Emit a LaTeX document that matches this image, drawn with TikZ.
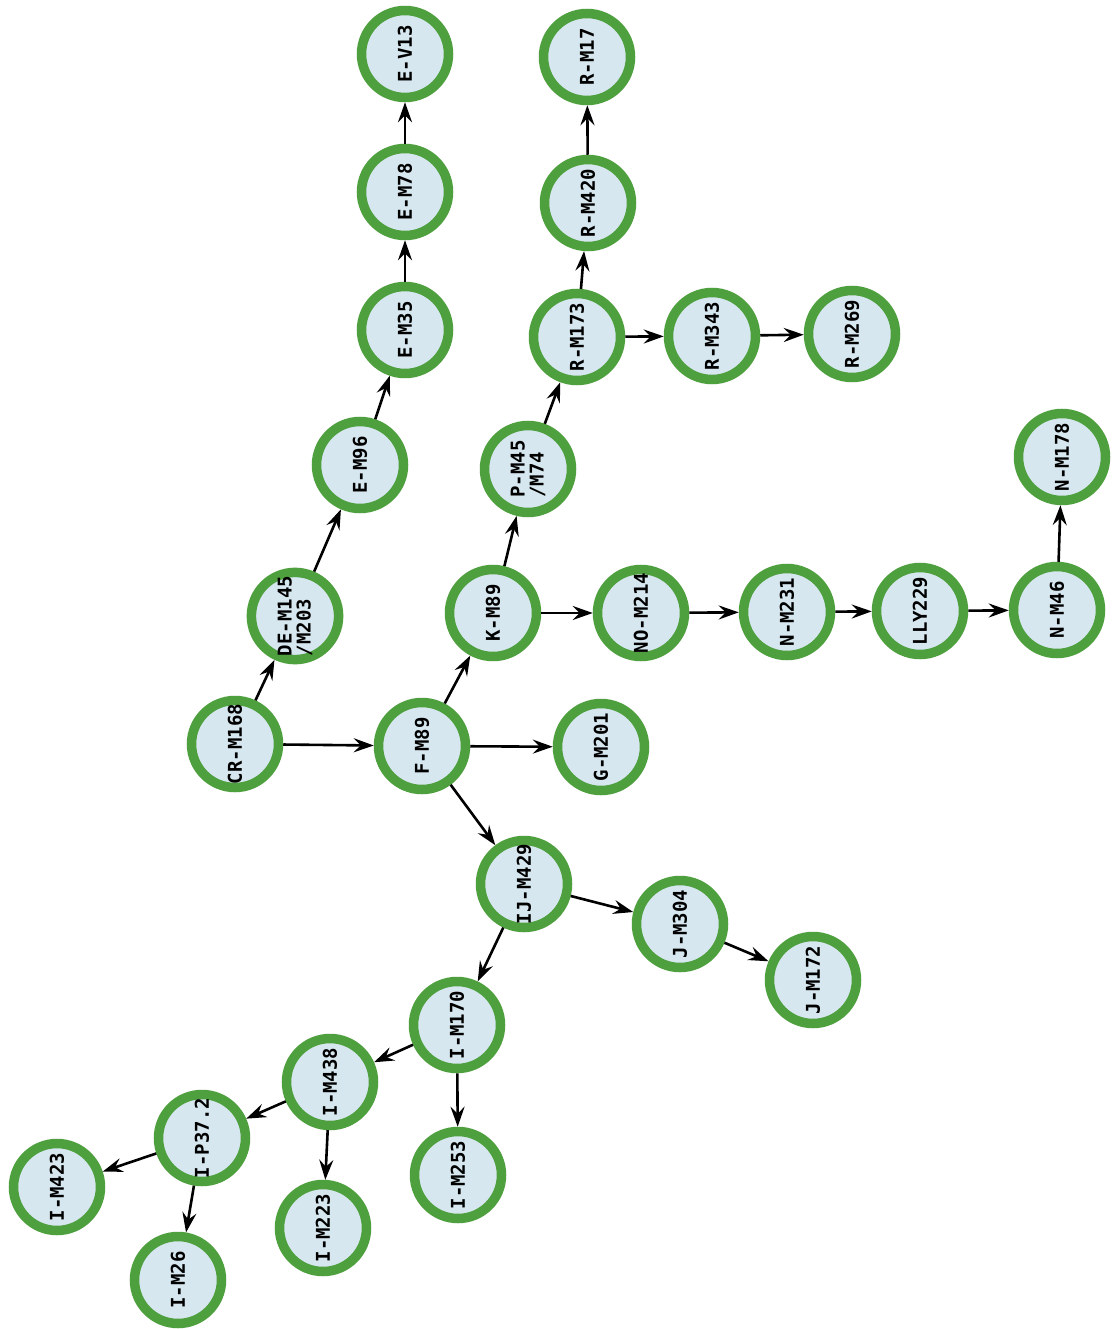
\documentclass[tikz,border=0pt]{standalone}
\usepackage{fontspec}
\newfontfamily\monob{DejaVu Sans Mono}[BoldFont={DejaVu Sans Mono Bold}]
\usetikzlibrary{arrows.meta}
\definecolor{ringgreen}{HTML}{4E9F3D}
\definecolor{nodefill}{HTML}{D6E7EF}
\tikzset{
  hap/.style={circle, draw=ringgreen, line width=9.5pt, fill=nodefill,
    minimum size=87pt, inner sep=0pt, rotate=90, align=left,
    font=\fontsize{19}{19}\selectfont\monob\bfseries},
  link/.style={line width=2.6pt, -{Stealth[length=20pt,width=14pt,inset=7pt]}}
}
\begin{document}
\begin{tikzpicture}[x=1pt,y=-1pt]
\useasboundingbox (0,0) rectangle (1111,1329);
\fill[white] (0,0) rectangle (1111,1329);
\node[hap] (cr) at (235,744) {CR-M168};
\node[hap] (f) at (422,746) {F-M89};
\node[hap] (g) at (601,747) {G-M201};
\node[hap] (de) at (295,616) {DE-M145\\/M203};
\node[hap] (e96) at (360,465) {E-M96};
\node[hap] (e35) at (405,330) {E-M35};
\node[hap] (e78) at (405,192) {E-M78};
\node[hap] (ev13) at (405,54) {E-V13};
\node[hap] (k) at (493,613) {K-M89};
\node[hap] (p) at (528,469) {P-M45\\/M74};
\node[hap] (r173) at (577,337) {R-M173};
\node[hap] (r420) at (588,203) {R-M420};
\node[hap] (r17) at (587,57) {R-M17};
\node[hap] (r343) at (712,336) {R-M343};
\node[hap] (r269) at (852,334) {R-M269};
\node[hap] (no) at (641,613) {NO-M214};
\node[hap] (n231) at (787,612) {N-M231};
\node[hap] (lly) at (920,611) {LLY229};
\node[hap] (n46) at (1057,610) {N-M46};
\node[hap] (n178) at (1062,457) {N-M178};
\node[hap] (ij) at (524,884) {IJ-M429};
\node[hap] (j304) at (680,924) {J-M304};
\node[hap] (j172) at (813,980) {J-M172};
\node[hap] (i170) at (457,1025) {I-M170};
\node[hap] (i438) at (330,1082) {I-M438};
\node[hap] (i253) at (458,1175) {I-M253};
\node[hap] (ip37) at (202,1138) {I-P37.2};
\node[hap] (i223) at (323,1228) {I-M223};
\node[hap] (i423) at (57,1187) {I-M423};
\node[hap] (i26) at (178,1280) {I-M26};
\draw[link] (cr) -- (de);
\draw[link] (cr) -- (f);
\draw[link] (de) -- (e96);
\draw[link] (e96) -- (e35);
\draw[link] (e35) -- (e78);
\draw[link] (e78) -- (ev13);
\draw[link] (f) -- (k);
\draw[link] (f) -- (g);
\draw[link] (f) -- (ij);
\draw[link] (k) -- (p);
\draw[link] (k) -- (no);
\draw[link] (p) -- (r173);
\draw[link] (r173) -- (r420);
\draw[link] (r420) -- (r17);
\draw[link] (r173) -- (r343);
\draw[link] (r343) -- (r269);
\draw[link] (no) -- (n231);
\draw[link] (n231) -- (lly);
\draw[link] (lly) -- (n46);
\draw[link] (n46) -- (n178);
\draw[link] (ij) -- (j304);
\draw[link] (j304) -- (j172);
\draw[link] (ij) -- (i170);
\draw[link] (i170) -- (i438);
\draw[link] (i170) -- (i253);
\draw[link] (i438) -- (ip37);
\draw[link] (i438) -- (i223);
\draw[link] (ip37) -- (i423);
\draw[link] (ip37) -- (i26);
\end{tikzpicture}
\end{document}
